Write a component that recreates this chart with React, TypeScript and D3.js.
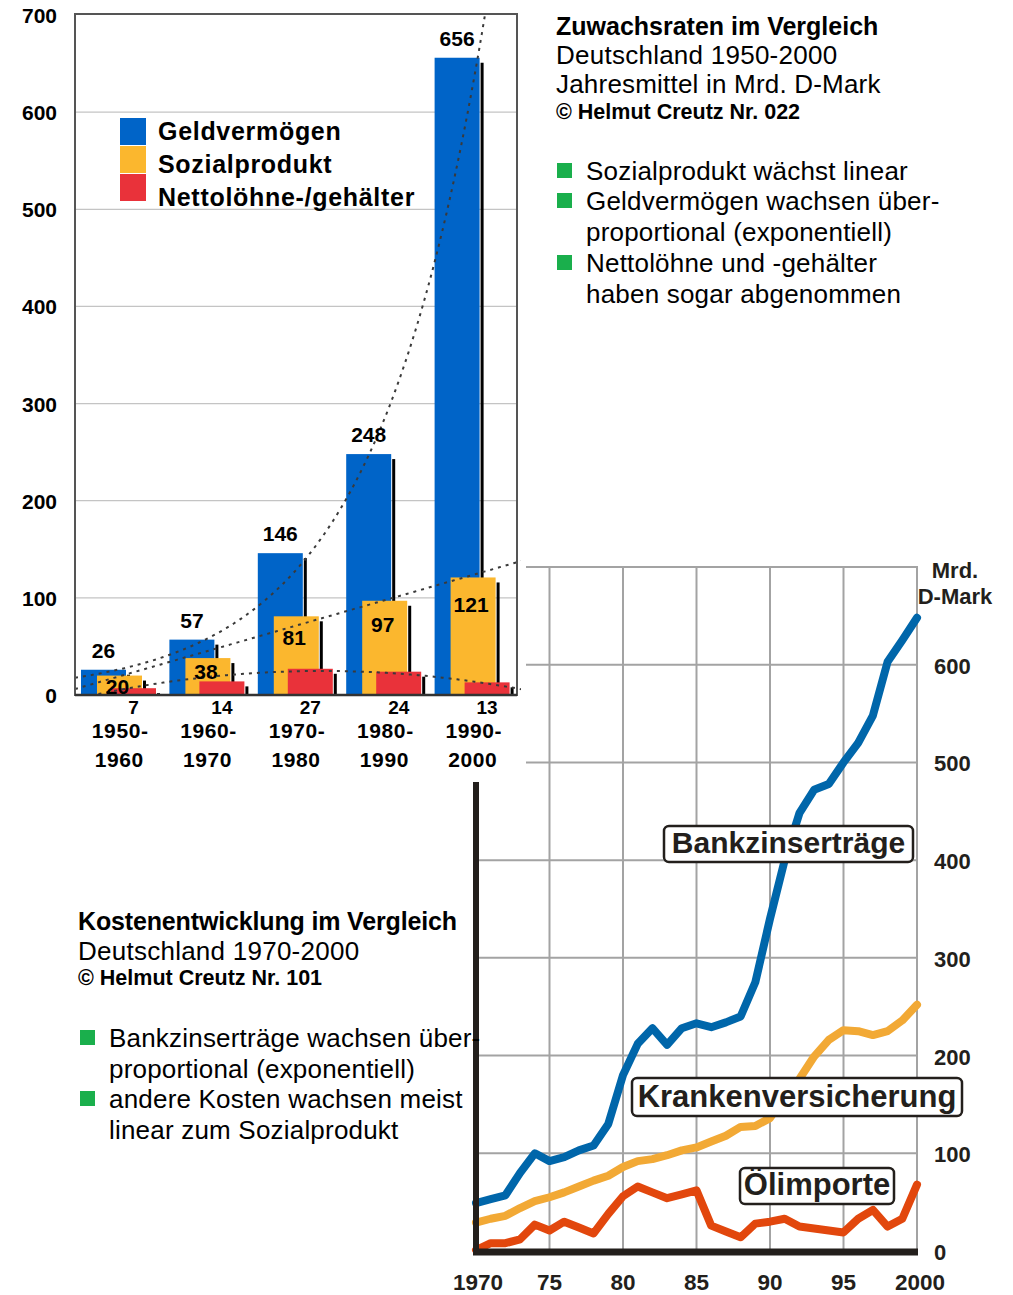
import * as d3 from "d3";
import React from "react";

// Balkendiagramm: Jahresmittel in Mrd. D-Mark
const periods = ["1950-1960", "1960-1970", "1970-1980", "1980-1990", "1990-2000"];
const geldvermoegen = [26, 57, 146, 248, 656];
const sozialprodukt = [20, 38, 81, 97, 121];
const nettoloehne = [7, 14, 27, 24, 13];
const barTicks = [0, 100, 200, 300, 400, 500, 600, 700];

// Liniendiagramm: Kostenentwicklung 1970-2000
const years = [
  1970, 1971, 1972, 1973, 1974, 1975, 1976, 1977, 1978, 1979, 1980, 1981, 1982, 1983, 1984, 1985,
  1986, 1987, 1988, 1989, 1990, 1991, 1992, 1993, 1994, 1995, 1996, 1997, 1998, 1999, 2000,
];
const bankzins = [
  49, 53, 57, 80, 100, 92, 96, 103, 108, 130, 180, 212, 228, 211, 228, 233, 229, 234, 240, 275,
  340, 400, 448, 472, 478, 500, 520, 548, 603, 625, 648,
];
const kranken = [
  29, 33, 36, 44, 51, 55, 60, 66, 72, 77, 86, 92, 94, 98, 103, 106, 112, 118, 127, 128, 136, 158,
  176, 199, 216, 226, 225, 221, 225, 236, 252,
];
const oel = [
  1, 8, 8, 12, 27, 21, 30, 24, 18, 38, 56, 66, 60, 54, 58, 62, 26, 20, 14, 28, 30, 33, 25, 23, 21,
  19, 33, 42, 25, 33, 68,
];
const lineTicks = [0, 100, 200, 300, 400, 500, 600, 700];
const yearTicks = [1970, 1975, 1980, 1985, 1990, 1995, 2000];
const yearLabels = ["1970", "75", "80", "85", "90", "95", "2000"];

const FONT = "'Liberation Sans', Arial, Helvetica, sans-serif";
const BLUE = "#0064c8";
const ORANGE = "#fbb72e";
const RED = "#e9323a";
const GREEN = "#1aaf4c";
const INK = "#231f1c";

// einfache Ausgleichsrechnung fuer die Trendlinien
const polyFit = (ys: number[], deg: number) => {
  const n = deg + 1;
  const A: number[][] = Array.from({ length: n }, () => new Array(n + 1).fill(0));
  ys.forEach((y, x) => {
    for (let r = 0; r < n; r++) {
      for (let c = 0; c < n; c++) A[r][c] += Math.pow(x, r + c);
      A[r][n] += y * Math.pow(x, r);
    }
  });
  for (let i = 0; i < n; i++) {
    for (let k = i + 1; k < n; k++) {
      const f = A[k][i] / A[i][i];
      for (let j = i; j <= n; j++) A[k][j] -= f * A[i][j];
    }
  }
  const coef = new Array(n).fill(0);
  for (let i = n - 1; i >= 0; i--) {
    let s = A[i][n];
    for (let j = i + 1; j < n; j++) s -= A[i][j] * coef[j];
    coef[i] = s / A[i][i];
  }
  return (x: number) => coef.reduce((acc, c, i) => acc + c * Math.pow(x, i), 0);
};
const expFit = (ys: number[]) => {
  const f = polyFit(ys.map(Math.log), 1);
  return (x: number) => Math.exp(f(x));
};

const BarChart: React.FC = () => {
  const left = 75;
  const right = 517;
  const x = d3.scaleBand<string>().domain(periods).range([left, right]);
  const bw = x.bandwidth();
  const y = d3.scaleLinear().domain([0, 700]).range([695, 15]);
  const barW = 45;

  const series = [
    { values: geldvermoegen, color: BLUE, off: 6 },
    { values: sozialprodukt, color: ORANGE, off: 22 },
    { values: nettoloehne, color: RED, off: 36 },
  ];

  // Trends: exponentiell, linear, quadratisch
  const trends = [expFit(geldvermoegen), polyFit(sozialprodukt, 1), polyFit(nettoloehne, 2)];
  const samples = d3.range(-0.5, 4.62, 0.04);

  return (
    <g>
      <rect x={0} y={0} width={526} height={782} fill="#fff" />
      <defs>
        <clipPath id="barclip">
          <rect x={left} y={14} width={right - left + 4} height={681} />
        </clipPath>
      </defs>
      {barTicks.slice(1, -1).map((t) => (
        <line key={t} x1={left} x2={right} y1={y(t)} y2={y(t)} stroke="#c4c4c4" strokeWidth={1.2} />
      ))}
      {barTicks.map((t) => (
        <text key={t} x={57} y={y(t) + 8} textAnchor="end" fontSize={21} fontWeight="bold" fontFamily={FONT}>
          {t}
        </text>
      ))}
      {periods.map((p, gi) => (
        <g key={p}>
          {series.map((s, si) => {
            const bx = (x(p) as number) + s.off;
            const top = y(s.values[gi]);
            return (
              <g key={si}>
                <rect x={bx} y={top} width={barW} height={y(0) - top} fill={s.color} />
                <rect x={bx + barW + 1} y={top + 5} width={3} height={y(0) - top - 5} fill="#000" />
              </g>
            );
          })}
        </g>
      ))}
      <g clipPath="url(#barclip)">
        {trends.map((f, k) => (
          <path
            key={k}
            d={
              d3
                .line<number>()
                .x((i) => left + bw * (i + 0.5))
                .y((i) => y(f(i)))(samples) as string
            }
            fill="none"
            stroke="#3a3a3a"
            strokeWidth={2}
            strokeDasharray="3 5"
          />
        ))}
      </g>
      <rect x={left} y={14} width={right - left} height={681} fill="none" stroke="#555" strokeWidth={2} />
      <line x1={left} x2={right} y1={695} y2={695} stroke="#333" strokeWidth={2.5} />
      {periods.map((p, gi) => {
        const bx = x(p) as number;
        const blueTop = y(geldvermoegen[gi]);
        const orTop = y(sozialprodukt[gi]);
        const orH = y(0) - orTop;
        const [a, b] = p.split("-");
        return (
          <g key={p} fontFamily={FONT} fontWeight="bold" textAnchor="middle">
            <text x={bx + 6 + barW / 2} y={blueTop - 12} fontSize={21}>
              {geldvermoegen[gi]}
            </text>
            <text x={bx + 22 + barW / 2 - 2} y={orTop + 15 + 0.17 * orH} fontSize={21}>
              {sozialprodukt[gi]}
            </text>
            <text x={bx + 36 + barW / 2} y={714} fontSize={19}>
              {nettoloehne[gi]}
            </text>
            <text x={bx + bw / 2 + 1} y={738} fontSize={21} letterSpacing={0.6}>
              {a + "-"}
            </text>
            <text x={bx + bw / 2} y={767} fontSize={21} letterSpacing={0.6}>
              {b}
            </text>
          </g>
        );
      })}
      {/* Legende */}
      {[
        { label: "Geldvermögen", color: BLUE },
        { label: "Sozialprodukt", color: ORANGE },
        { label: "Nettolöhne-/gehälter", color: RED },
      ].map((l, i) => (
        <g key={l.label}>
          <rect x={120} y={118 + i * 28} width={26} height={27} fill={l.color} />
          <text x={158} y={140 + i * 33} fontSize={25} fontWeight="bold" fontFamily={FONT} letterSpacing={0.7}>
            {l.label}
          </text>
        </g>
      ))}
    </g>
  );
};

const LineChart: React.FC = () => {
  const x = d3.scaleLinear().domain([1970, 2000]).range([476, 917]);
  const y = d3.scaleLinear().domain([0, 700]).range([1251, 567]);
  const line = d3
    .line<number>()
    .x((_, i) => x(years[i]))
    .y((v) => y(v));

  const labels = [
    { text: "Bankzinserträge", bx: 664, by: 826, w: 249, h: 36, size: 30 },
    { text: "Krankenversicherung", bx: 632, by: 1078, w: 330, h: 38, size: 31 },
    { text: "Ölimporte", bx: 740, by: 1168, w: 154, h: 36, size: 31 },
  ];

  return (
    <g>
      {lineTicks.slice(1).map((t) => (
        <line key={t} x1={476} x2={918} y1={y(t)} y2={y(t)} stroke="#a3a3a3" strokeWidth={2} />
      ))}
      {yearTicks.slice(1).map((t) => (
        <line key={t} x1={x(t)} x2={x(t)} y1={y(700)} y2={y(0)} stroke="#a3a3a3" strokeWidth={2} />
      ))}
      {[
        { values: kranken, color: "#f2a935" },
        { values: oel, color: "#e2470d" },
        { values: bankzins, color: "#0066aa" },
      ].map((s, i) => (
        <path
          key={i}
          d={line(s.values) as string}
          fill="none"
          stroke={s.color}
          strokeWidth={8}
          strokeLinejoin="round"
          strokeLinecap="round"
        />
      ))}
      <line x1={476} x2={476} y1={567} y2={1255} stroke={INK} strokeWidth={6} />
      <line x1={473} x2={918} y1={1252} y2={1252} stroke={INK} strokeWidth={7} />
      {lineTicks.slice(0, -1).map((t) => (
        <text key={t} x={934} y={y(t) + 9} fontSize={22} fontWeight="bold" fontFamily={FONT} fill={INK}>
          {t}
        </text>
      ))}
      <text x={955} y={578} textAnchor="middle" fontSize={22} fontWeight="bold" fontFamily={FONT} fill={INK}>
        Mrd.
      </text>
      <text x={955} y={604} textAnchor="middle" fontSize={22} fontWeight="bold" fontFamily={FONT} fill={INK}>
        D-Mark
      </text>
      {yearTicks.map((t, i) => (
        <text
          key={t}
          x={x(t) + (i === 0 ? 2 : i === yearTicks.length - 1 ? 3 : 0)}
          y={1290}
          textAnchor="middle"
          fontSize={22.5}
          fontWeight="bold"
          fontFamily={FONT}
          fill={INK}
        >
          {yearLabels[i]}
        </text>
      ))}
      {labels.map((l) => (
        <g key={l.text}>
          <rect x={l.bx} y={l.by} width={l.w} height={l.h} rx={5} fill="#fff" stroke={INK} strokeWidth={2.5} />
          <text
            x={l.bx + l.w / 2}
            y={l.by + l.h - 9}
            textAnchor="middle"
            fontSize={l.size}
            fontWeight="bold"
            fontFamily={FONT}
            fill={INK}
          >
            {l.text}
          </text>
        </g>
      ))}
    </g>
  );
};

const Bullet: React.FC<{ x: number; y: number; lines: string[]; lh: number }> = ({ x, y, lines, lh }) => (
  <g>
    <rect x={x} y={y - 17} width={15} height={15} fill={GREEN} />
    {lines.map((t, i) => (
      <text key={i} x={x + 29} y={y + i * lh} fontSize={26} fontFamily={FONT} letterSpacing={0.2}>
        {t}
      </text>
    ))}
  </g>
);

const App: React.FC = () => {
  React.useEffect(() => {
    document.body.style.margin = "0";
  }, []);

  return (
    <svg
      width={1013}
      height={1295}
      style={{ position: "absolute", left: 0, top: 0, display: "block", background: "#fff" }}
    >
      <rect width={1013} height={1295} fill="#fff" />
      <LineChart />
      <BarChart />

      <g fontFamily={FONT}>
        <text x={556} y={35} fontSize={25} fontWeight="bold">
          Zuwachsraten im Vergleich
        </text>
        <text x={556} y={64} fontSize={26} letterSpacing={0.25}>
          Deutschland 1950-2000
        </text>
        <text x={556} y={93} fontSize={26} letterSpacing={0.2}>
          Jahresmittel in Mrd. D-Mark
        </text>
        <text x={556} y={119} fontSize={21.5} fontWeight="bold">
          © Helmut Creutz Nr. 022
        </text>
      </g>
      <Bullet x={557} y={180} lines={["Sozialprodukt wächst linear"]} lh={31} />
      <Bullet x={557} y={210} lines={["Geldvermögen wachsen über-", "proportional (exponentiell)"]} lh={31} />
      <Bullet x={557} y={272} lines={["Nettolöhne und -gehälter", "haben sogar abgenommen"]} lh={31} />

      <g fontFamily={FONT}>
        <text x={78} y={930} fontSize={25} fontWeight="bold" letterSpacing={-0.15}>
          Kostenentwicklung im Vergleich
        </text>
        <text x={78} y={960} fontSize={26} letterSpacing={0.25}>
          Deutschland 1970-2000
        </text>
        <text x={78} y={985} fontSize={21.5} fontWeight="bold">
          © Helmut Creutz Nr. 101
        </text>
      </g>
      <Bullet x={80} y={1047} lines={["Bankzinserträge wachsen über-", "proportional (exponentiell)"]} lh={30.5} />
      <Bullet x={80} y={1108} lines={["andere Kosten wachsen meist", "linear zum Sozialprodukt"]} lh={30.5} />
    </svg>
  );
};

export default App;
